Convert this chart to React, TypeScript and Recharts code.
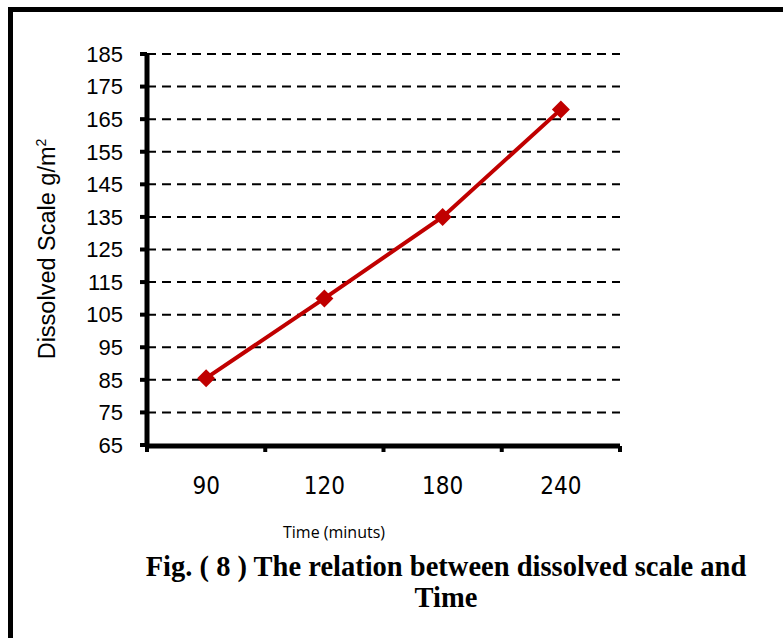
import { LineChart, Line, XAxis, YAxis, CartesianGrid } from 'recharts';

const times = ['90', '120', '180', '240'];
const dissolved = [85.5, 110, 135, 168];
const yTicks = [65, 75, 85, 95, 105, 115, 125, 135, 145, 155, 165, 175, 185];

const data = times.map((t, i) => ({ idx: i, time: t, value: dissolved[i] }));
const centerTicks = times.map((_, i) => i);
const edgeTicks = [...times.map((_, i) => i - 0.5), times.length - 0.5];

const Diamond = (props: any) => {
  const { cx, cy } = props;
  if (cx == null || cy == null) return null;
  const r = 9;
  return (
    <polygon
      points={`${cx},${cy - r} ${cx + r},${cy} ${cx},${cy + r} ${cx - r},${cy}`}
      fill="#C00000"
    />
  );
};

const App = () => {
  return (
    <div style={{ position: 'absolute', left: 0, top: 0, width: 783, height: 638, background: '#fff', overflow: 'hidden' }}>
      <div
        style={{
          position: 'absolute',
          left: 8,
          top: 7,
          width: 800,
          height: 700,
          borderTop: '5px solid #000',
          borderLeft: '5px solid #000',
        }}
      />
      <LineChart
        width={783}
        height={638}
        data={data}
        margin={{ top: 54, right: 163, bottom: 191, left: 0 }}
        style={{ position: 'absolute', left: 0, top: 0 }}
      >
        <CartesianGrid
          xAxisId="cat"
          vertical={false}
          stroke="#000"
          strokeWidth={2}
          strokeDasharray="9 6"
        />
        <XAxis
          xAxisId="edge"
          type="number"
          dataKey="idx"
          domain={[-0.5, times.length - 0.5]}
          ticks={edgeTicks}
          interval={0}
          tick={{ fontSize: 1, fill: 'none' }}
          tickFormatter={() => ' '}
          height={1}
          tickSize={6}
          tickLine={{ stroke: '#000', strokeWidth: 4 }}
          axisLine={{ stroke: '#000', strokeWidth: 5 }}
        />
        <XAxis
          xAxisId="cat"
          type="number"
          dataKey="idx"
          domain={[-0.5, times.length - 0.5]}
          ticks={centerTicks}
          interval={0}
          tickFormatter={(v: number) => times[v]}
          height={1}
          tickLine={false}
          axisLine={false}
          tickSize={0}
          tickMargin={32}
          tick={{ fill: '#000', fontSize: 24, fontFamily: '"Liberation Sans Narrow", "DejaVu Sans Condensed", sans-serif' }}
        />
        <YAxis
          type="number"
          domain={[65, 185]}
          ticks={yTicks}
          interval={0}
          width={147}
          tickSize={7}
          tickMargin={17}
          tickLine={{ stroke: '#000', strokeWidth: 4 }}
          axisLine={{ stroke: '#000', strokeWidth: 5 }}
          tick={{ fill: '#000', fontSize: 22, fontFamily: '"Liberation Sans", Arial, sans-serif' }}
        />
        <Line
          xAxisId="cat"
          type="linear"
          dataKey="value"
          stroke="#C00000"
          strokeWidth={4}
          dot={<Diamond />}
          activeDot={false}
          isAnimationActive={false}
        />
      </LineChart>
      <div
        style={{
          position: 'absolute',
          left: 47,
          top: 249,
          transform: 'translate(-50%, -50%) rotate(-90deg)',
          whiteSpace: 'nowrap',
          fontFamily: '"Liberation Sans", Arial, sans-serif',
          fontSize: 23.5,
          color: '#000',
        }}
      >
        Dissolved Scale g/m<sup style={{ fontSize: 14 }}>2</sup>
      </div>
      <div
        style={{
          position: 'absolute',
          left: 234,
          width: 200,
          top: 521,
          textAlign: 'center',
          fontFamily: '"Open Sans", sans-serif',
          fontSize: 16,
          color: '#000',
        }}
      >
        Time (minuts)
      </div>
      <div
        style={{
          position: 'absolute',
          left: 46,
          width: 800,
          top: 551,
          textAlign: 'center',
          fontFamily: '"Liberation Serif", "Times New Roman", serif',
          fontWeight: 'bold',
          fontSize: 28.5,
          lineHeight: '31px',
          color: '#000',
        }}
      >
        <div style={{ whiteSpace: 'nowrap' }}>Fig. ( 8 ) The relation between dissolved scale and</div>
        <div>Time</div>
      </div>
    </div>
  );
};

export default App;
